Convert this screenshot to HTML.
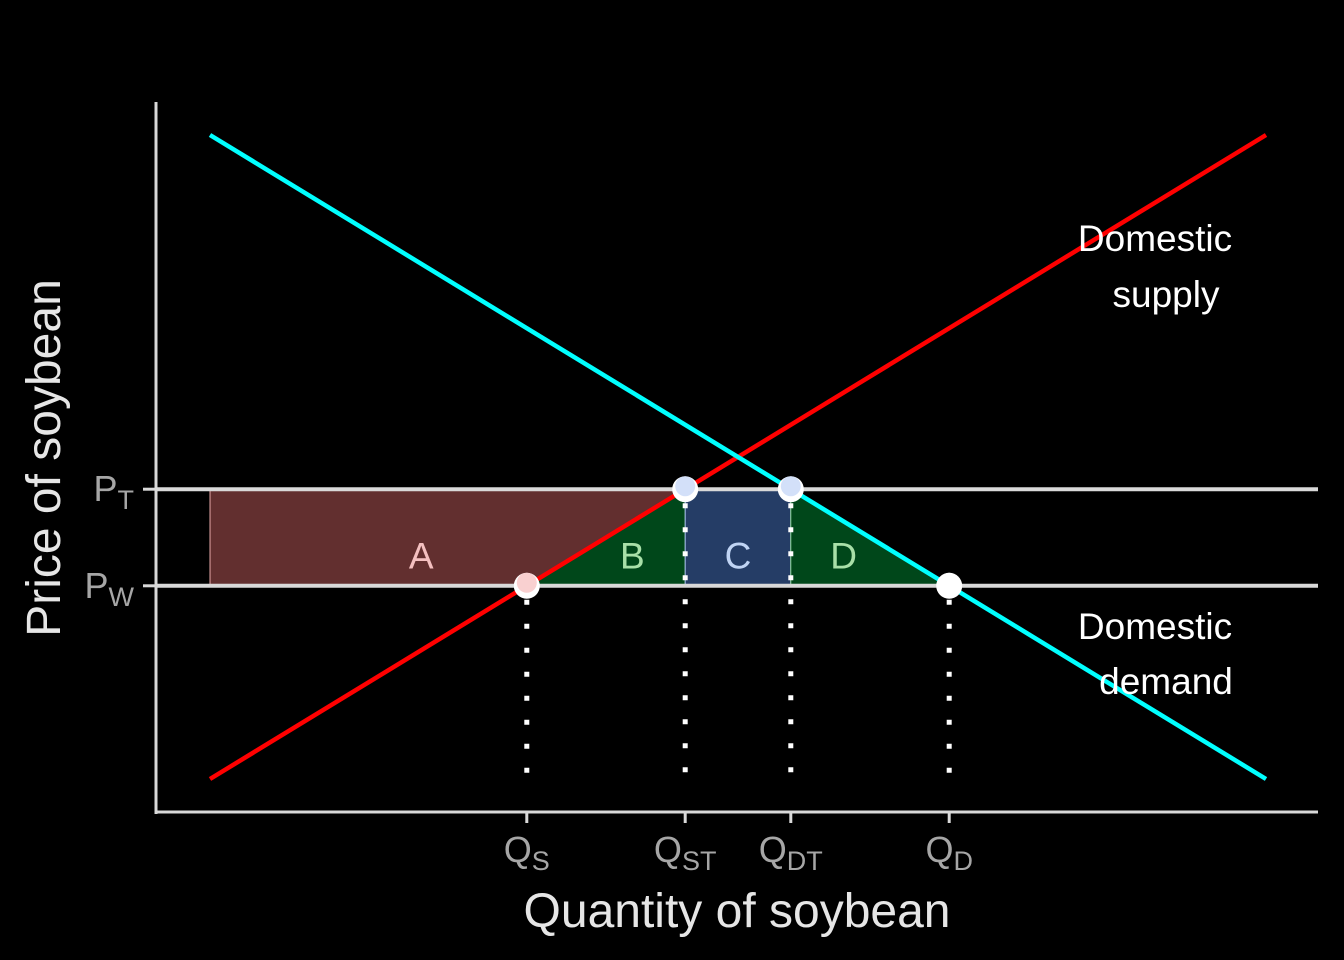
<!DOCTYPE html>
<html><head><meta charset="utf-8"><style>
html,body{margin:0;padding:0;background:#000;}
svg{display:block;font-family:"Liberation Sans",sans-serif;}
</style></head><body>
<svg id="chart" width="1344" height="960" viewBox="0 0 1344 960"></svg>
<script>
const xTicks = ["S","ST","DT","D"];
const xTickVals = [3, 4.5, 5.5, 7];
const yTicks = ["T","W"];
const yTickVals = [4.5, 3];
const supplyX = [0, 10];
const supplyY = [0, 10];
const demandX = [0, 10];
const demandY = [10, 0];
const pT = 4.5, pW = 3;
const qS = 3, qST = 4.5, qDT = 5.5, qD = 7;

const x = v => 210 + v * 105.6;
const y = v => 779 - v * 64.4;
const svg = document.getElementById('chart');
const NS = 'http://www.w3.org/2000/svg';
function add(tag, attrs, parent) {
  const e = document.createElementNS(NS, tag);
  for (const k in attrs) e.setAttribute(k, attrs[k]);
  (parent || svg).appendChild(e);
  return e;
}
let e;
e = add('polygon', {points: `${x(0)},${y(pW)} ${x(qST)},${y(pW)} ${x(qST)},${y(pT)} ${x(0)},${y(pT)}`, fill:'#622f2f', stroke:'#e8a8a8', 'stroke-width':1});
 
e = add('polygon', {points: `${x(qS)},${y(pW)} ${x(qST)},${y(pW)} ${x(qST)},${y(pT)}`, fill:'#00471a', stroke:'#8fd49a', 'stroke-width':1});
 
e = add('polygon', {points: `${x(qST)},${y(pW)} ${x(qDT)},${y(pW)} ${x(qDT)},${y(pT)} ${x(qST)},${y(pT)}`, fill:'#253d66', stroke:'#a8c0ec', 'stroke-width':1});
 
e = add('polygon', {points: `${x(qDT)},${y(pW)} ${x(qD)},${y(pW)} ${x(qDT)},${y(pT)}`, fill:'#00471a', stroke:'#8fd49a', 'stroke-width':1});
 
[pT, pW].forEach((p, i) => {
  const l = add('line', {x1:156, x2:1318, y1:y(p), y2:y(p), stroke:'#d9d9d9', 'stroke-width':4});
  
  
});
xTickVals.forEach((q, i) => {
  const p = (i === 0 || i === 3) ? pW : pT;
  const l = add('line', {x1:x(q), x2:x(q), y1:y(p), y2:y(0), stroke:'#fff', 'stroke-width':5, 'stroke-dasharray':'5 19', 'stroke-dashoffset':-14});
  
  
});
e = add('line', {x1:x(supplyX[0]), y1:y(supplyY[0]), x2:x(supplyX[1]), y2:y(supplyY[1]), stroke:'#ff0000', 'stroke-width':4.5});
 
e = add('line', {x1:x(demandX[0]), y1:y(demandY[0]), x2:x(demandX[1]), y2:y(demandY[1]), stroke:'#00ffff', 'stroke-width':4.5});
 
[[qS,pW,'#f8c4c4'],[qST,pT,'#c8d8f8'],[qDT,pT,'#c8d8f8'],[qD,pW,'#ffffff']].forEach(d => {
  const c = add('circle', {cx:x(d[0]), cy:y(d[1]), r:13, fill:'#fff'});
  
  
  const c2 = add('circle', {cx:x(d[0]), cy:y(d[1])-3, r:10, fill:d[2], opacity:0.8});
  
  
});
[['A',qS-1,'#f4c0c0'],['B',qST-0.5,'#a8e0a8'],['C',(qST+qDT)/2,'#c0d4f4'],['D',qDT+0.5,'#a8e0a8']].forEach(d => {
  const t = add('text', {x:x(d[1]), y:y((pT+pW)/2)+31, fill:d[2], 'font-size':37, 'text-anchor':'middle'});
  t.textContent = d[0];
  
  
});
e = add('line', {x1:156, x2:156, y1:102, y2:814, stroke:'#d9d9d9', 'stroke-width':3});
 
e = add('line', {x1:155, x2:1318, y1:812, y2:812, stroke:'#d9d9d9', 'stroke-width':3});
 
xTickVals.forEach((q, i) => {
  const l = add('line', {x1:x(q), x2:x(q), y1:812, y2:823, stroke:'#d9d9d9', 'stroke-width':3});
   
  const t = add('text', {x:x(q), y:862, fill:'#a6a6a6', 'font-size':36, 'text-anchor':'middle'});
   
  const a = add('tspan', {}, t); a.textContent = 'Q';
  const b = add('tspan', {'font-size':27, dy:8}, t); b.textContent = xTicks[i];
});
yTickVals.forEach((p, i) => {
  const l = add('line', {x1:143, x2:156, y1:y(p), y2:y(p), stroke:'#d9d9d9', 'stroke-width':3});
   
  const t = add('text', {x:134, y:y(p)+12, fill:'#a6a6a6', 'font-size':36, 'text-anchor':'end'});
   
  const a = add('tspan', {}, t); a.textContent = 'P';
  const b = add('tspan', {'font-size':27, dy:8}, t); b.textContent = yTicks[i];
});
e = add('text', {x:737, y:927, fill:'#e6e6e6', 'font-size':48, 'text-anchor':'middle'});
e.textContent = 'Quantity of soybean';
 
e = add('text', {x:0, y:0, fill:'#e6e6e6', 'font-size':48, 'text-anchor':'middle', transform:'translate(60,458) rotate(-90)'});
e.textContent = 'Price of soybean';
 
[['Domestic',1155,251,'supply-label'],['supply',1166,307,'supply-label'],['Domestic',1155,639,'demand-label'],['demand',1166,694,'demand-label']].forEach(d => {
  const t = add('text', {x:d[1], y:d[2], fill:'#ffffff', 'font-size':37, 'text-anchor':'middle'});
  t.textContent = d[0];
  
  
});
</script>
</body></html>
